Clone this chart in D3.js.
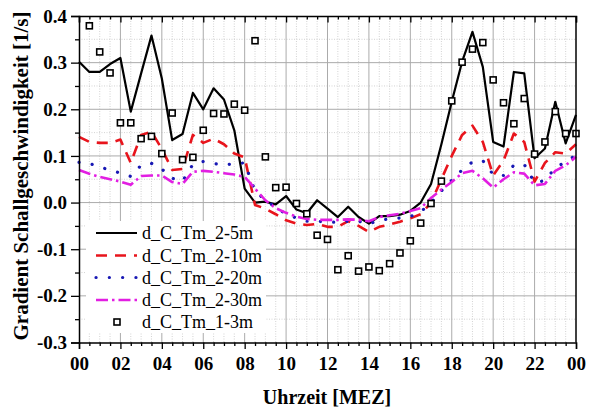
<!DOCTYPE html>
<html>
<head>
<meta charset="utf-8">
<script src="https://cdn.jsdelivr.net/npm/d3@7/dist/d3.min.js"></script>
<style>
  body { margin: 0; background: #fff; }
  svg text { font-family: "Liberation Serif", "Times New Roman", serif; }
</style>
</head>
<body>
<svg id="chart" width="589" height="413"></svg>
<script>
// Half-hourly time stamps (hours, MEZ)
const hours = [0,0.5,1,1.5,2,2.5,3,3.5,4,4.5,5,5.5,6,6.5,7,7.5,8,8.5,9,9.5,10,10.5,11,11.5,
               12,12.5,13,13.5,14,14.5,15,15.5,16,16.5,17,17.5,18,18.5,19,19.5,20,20.5,21,21.5,
               22,22.5,23,23.5,24];

// Sound-speed gradient, tower level pairs [1/s]
const tm2_5m  = [0.302,0.280,0.280,0.297,0.310,0.195,0.277,0.358,0.266,0.134,0.147,0.235,0.200,0.245,0.221,0.155,
                 0.030,0.000,0.002,-0.004,0.014,-0.015,-0.023,0.005,-0.013,-0.031,-0.009,-0.031,-0.045,-0.029,-0.029,-0.026,
                 -0.018,0.000,0.040,0.125,0.216,0.302,0.366,0.291,0.130,0.120,0.280,0.277,0.095,0.116,0.216,0.127,0.188];
const tm2_10m = [0.141,0.130,0.128,0.128,0.135,0.085,0.145,0.152,0.115,0.070,0.072,0.145,0.128,0.137,0.125,0.105,
                 0.097,-0.005,-0.013,-0.025,-0.038,-0.045,-0.048,-0.046,-0.052,-0.052,-0.040,-0.050,-0.063,-0.052,-0.047,-0.041,
                 -0.034,-0.025,0.000,0.050,0.100,0.145,0.165,0.130,0.058,0.090,0.148,0.130,0.045,0.085,0.108,0.105,0.125];
const tm2_20m = [0.086,0.084,0.076,0.070,0.063,0.056,0.080,0.084,0.072,0.052,0.046,0.082,0.088,0.084,0.080,0.084,
                 0.085,0.025,0.005,-0.010,-0.025,-0.033,-0.040,-0.040,-0.042,-0.042,-0.040,-0.040,-0.046,-0.038,-0.035,-0.033,
                 -0.030,-0.020,0.000,0.025,0.048,0.070,0.087,0.090,0.060,0.058,0.080,0.082,0.043,0.047,0.075,0.087,0.102];
const tm2_30m = [0.070,0.062,0.055,0.050,0.045,0.038,0.057,0.058,0.058,0.044,0.040,0.066,0.068,0.066,0.063,0.060,
                 0.055,0.030,0.005,-0.012,-0.022,-0.030,-0.035,-0.037,-0.037,-0.037,-0.036,-0.037,-0.040,-0.031,-0.027,-0.024,
                 -0.018,-0.012,0.010,0.028,0.044,0.063,0.068,0.052,0.032,0.050,0.065,0.062,0.037,0.040,0.068,0.080,0.098];

// Level pair 1-3 m, available from 00:30
const hours1_3 = hours.slice(1);
const tm1_3m  = [0.379,0.323,0.278,0.171,0.171,0.137,0.142,0.105,0.192,0.092,0.097,0.155,0.191,0.190,0.211,0.198,
                 0.347,0.098,0.032,0.033,-0.002,-0.024,-0.070,-0.079,-0.144,-0.114,-0.147,-0.138,-0.146,-0.131,-0.108,-0.082,
                 -0.044,-0.002,0.046,0.218,0.301,0.329,0.343,0.263,0.214,0.169,0.223,0.104,0.130,0.195,0.148,0.148];

// Axis ticks
const xMajor = [0,2,4,6,8,10,12,14,16,18,20,22,24];
const xLabels = ["00","02","04","06","08","10","12","14","16","18","20","22","00"];
const yMajor = [-0.3,-0.2,-0.1,0.0,0.1,0.2,0.3,0.4];
const yLabels = ["-0.3","-0.2","-0.1","0.0","0.1","0.2","0.3","0.4"];
const xMinor = [0.5,1,1.5,2.5,3,3.5,4.5,5,5.5,6.5,7,7.5,8.5,9,9.5,10.5,11,11.5,12.5,13,13.5,14.5,15,15.5,
                16.5,17,17.5,18.5,19,19.5,20.5,21,21.5,22.5,23,23.5];
const yMinor = [-0.25,-0.15,-0.05,0.05,0.15,0.25,0.35];

const seriesNames = ["d_C_Tm_2-5m","d_C_Tm_2-10m","d_C_Tm_2-20m","d_C_Tm_2-30m","d_C_Tm_1-3m"];

const styles = [
  { values: tm2_5m,  color: "#000000", width: 2.2, dash: null },
  { values: tm2_10m, color: "#e8141c", width: 2.6, dash: "11,8" },
  { values: tm2_20m, color: "#1818b4", width: 3.2, dash: "0.1,13.2", cap: "round" },
  { values: tm2_30m, color: "#e21ee2", width: 2.6, dash: "12,4,2.5,4" }
];

const svg = d3.select("#chart");
const L = 79, R = 576, T = 16, B = 342.5;

const x = d3.scaleLinear().domain([0, 24]).range([L, R]);
const y = d3.scaleLinear().domain([-0.3, 0.4]).range([B, T]);

// Grid: minor dotted, major solid
const grid = svg.append("g");
grid.selectAll(".vmin").data(xMinor).join("line")
  .attr("x1", d => x(d)).attr("x2", d => x(d)).attr("y1", T).attr("y2", B)
  .attr("stroke", "#c8c8c8").attr("stroke-width", 0.8).attr("stroke-dasharray", "1,1.5");
grid.selectAll(".hmin").data(yMinor).join("line")
  .attr("x1", L).attr("x2", R).attr("y1", d => y(d)).attr("y2", d => y(d))
  .attr("stroke", "#c8c8c8").attr("stroke-width", 0.8).attr("stroke-dasharray", "1,1.5");
grid.selectAll(".vmaj").data(xMajor.slice(1, -1)).join("line")
  .attr("x1", d => x(d)).attr("x2", d => x(d)).attr("y1", T).attr("y2", B)
  .attr("stroke", "#ababab").attr("stroke-width", 1);
grid.selectAll(".hmaj").data(yMajor.slice(1, -1)).join("line")
  .attr("x1", L).attr("x2", R).attr("y1", d => y(d)).attr("y2", d => y(d))
  .attr("stroke", "#ababab").attr("stroke-width", 1);

// Series lines
const line = d3.line().x((d, i) => x(hours[i])).y(d => y(d));
styles.forEach(s => {
  svg.append("path")
    .datum(s.values)
    .attr("d", line)
    .attr("fill", "none")
    .attr("stroke", s.color)
    .attr("stroke-width", s.width)
    .attr("stroke-linejoin", "round")
    .attr("stroke-linecap", s.cap || "butt")
    .attr("stroke-dasharray", s.dash);
});

// 1-3 m scatter squares
const sq = 6;
svg.append("g").selectAll("rect").data(tm1_3m).join("rect")
  .attr("x", (d, i) => x(hours1_3[i]) - sq / 2)
  .attr("y", d => y(d) - sq / 2)
  .attr("width", sq).attr("height", sq)
  .attr("fill", "#fff").attr("stroke", "#000").attr("stroke-width", 1.6);

// Axes
const tickFont = g => g.selectAll("text")
  .style("font-family", "'Liberation Serif', serif")
  .style("font-weight", "bold")
  .style("font-size", "19px")
  .attr("fill", "#000");

const axBottom = svg.append("g").attr("transform", `translate(0,${B})`)
  .call(d3.axisBottom(x).tickValues(xMajor).tickSize(6.5).tickPadding(7)
        .tickFormat((d, i) => xLabels[i]));
axBottom.call(tickFont);
axBottom.selectAll("text").attr("dy", "0.72em");
svg.append("g").attr("transform", `translate(0,${B})`)
  .call(d3.axisBottom(x).tickValues(xMinor).tickSize(3.5).tickFormat(""))
  .select(".domain").remove();

svg.append("g").attr("transform", `translate(0,${T})`)
  .call(d3.axisBottom(x).tickValues(xMajor).tickSize(6.5).tickFormat(""));
svg.append("g").attr("transform", `translate(0,${T})`)
  .call(d3.axisBottom(x).tickValues(xMinor).tickSize(3.5).tickFormat(""))
  .select(".domain").remove();

const axLeft = svg.append("g").attr("transform", `translate(${L},0)`)
  .call(d3.axisLeft(y).tickValues(yMajor).tickSize(8).tickPadding(4)
        .tickFormat((d, i) => yLabels[i]));
axLeft.call(tickFont);
svg.append("g").attr("transform", `translate(${L},0)`)
  .call(d3.axisLeft(y).tickValues(yMinor).tickSize(4).tickFormat(""))
  .select(".domain").remove();

svg.append("line").attr("x1", R).attr("x2", R).attr("y1", T).attr("y2", B)
  .attr("stroke", "#000").attr("stroke-width", 1.5);

svg.selectAll(".domain").attr("stroke", "#000").attr("stroke-width", 1.5);
svg.selectAll(".tick line").attr("stroke", "#000").attr("stroke-width", 1.3);

// Axis titles
svg.append("text")
  .attr("x", 327).attr("y", 404)
  .attr("text-anchor", "middle")
  .style("font-weight", "bold").style("font-size", "20px")
  .text("Uhrzeit [MEZ]");

svg.append("text")
  .attr("transform", "translate(28,176) rotate(-90)")
  .attr("text-anchor", "middle")
  .style("font-weight", "bold").style("font-size", "21px")
  .text("Gradient Schallgeschwindigkeit [1/s]");

// Legend
const lg = svg.append("g");
lg.append("rect").attr("x", 86).attr("y", 221).attr("width", 180).attr("height", 112).attr("fill", "#fff");
const rowY = [233, 255.5, 277.5, 300, 322];
styles.forEach((s, i) => {
  lg.append("line")
    .attr("x1", 96).attr("x2", 137).attr("y1", rowY[i]).attr("y2", rowY[i])
    .attr("stroke", s.color).attr("stroke-width", s.width)
    .attr("stroke-linecap", s.cap || "butt")
    .attr("stroke-dasharray", s.dash);
});
lg.append("rect").attr("x", 117 - sq / 2).attr("y", rowY[4] - sq / 2)
  .attr("width", sq).attr("height", sq)
  .attr("fill", "#fff").attr("stroke", "#000").attr("stroke-width", 1.6);
lg.selectAll("text.lbl").data(seriesNames).join("text")
  .attr("x", 142).attr("y", (d, i) => rowY[i] + 6)
  .style("font-size", "18px")
  .text(d => d);
</script>
</body>
</html>
